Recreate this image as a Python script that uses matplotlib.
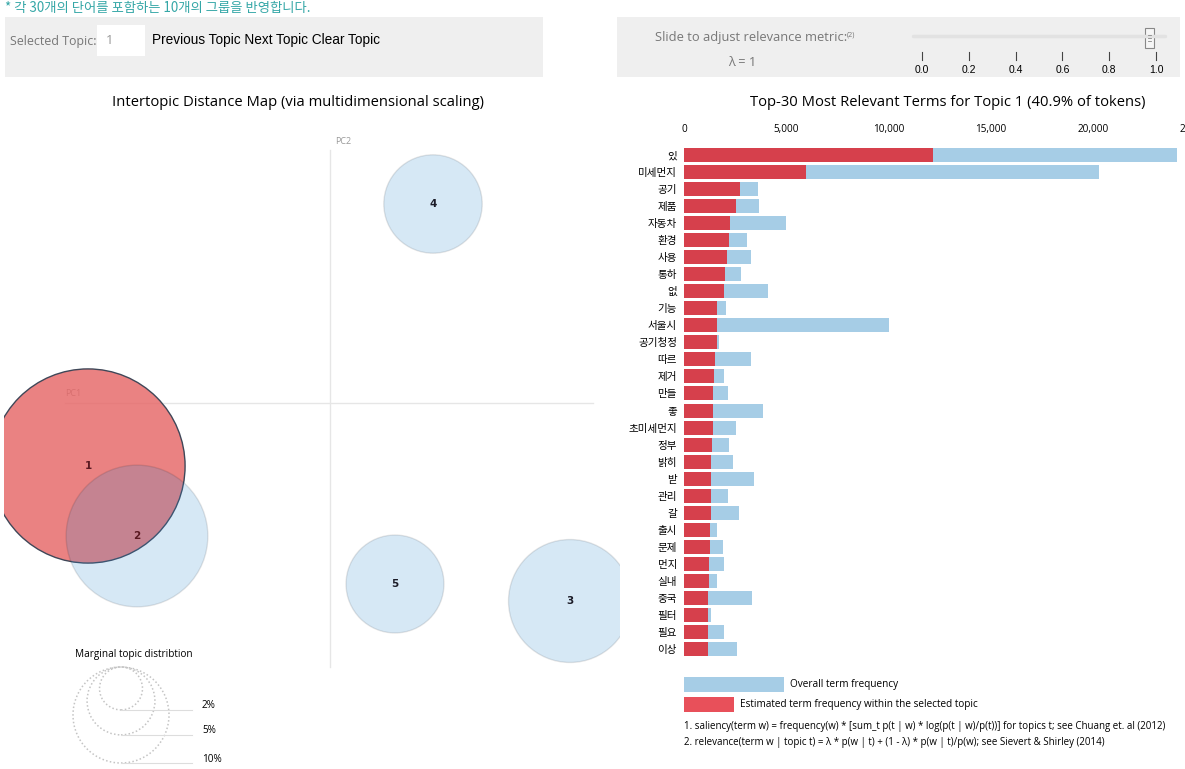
import numpy as np
import matplotlib
matplotlib.use("Agg")
import matplotlib.pyplot as plt
from matplotlib.patches import Circle, Rectangle
from matplotlib.ticker import FuncFormatter

plt.rcParams['font.family'] = ['Open Sans', 'Noto Sans CJK KR', 'DejaVu Sans']

# --- data ---------------------------------------------------------------------

topic_ids = [1, 2, 3, 4, 5]
topic_pc1 = [-0.242, -0.193, 0.240, 0.103, 0.065]
topic_pc2 = [-0.063, -0.133, -0.198, 0.199, -0.181]
topic_pct = [40.9, 21.8, 16.4, 10.5, 10.4]
selected_topic = 1

legend_pct = [2, 5, 10]

terms = ["있", "미세먼지", "공기", "제품", "자동차", "환경", "사용", "통하", "없", "기능",
         "서울시", "공기청정", "따르", "제거", "만들", "좋", "초미세먼지", "정부", "밝히", "받",
         "관리", "갈", "출시", "문제", "먼지", "실내", "중국", "필터", "필요", "이상"]
overall_freq = [24100, 20300, 3640, 3670, 5000, 3060, 3270, 2790, 4120, 2030,
                10000, 1730, 3270, 1940, 2160, 3850, 2530, 2210, 2420, 3410,
                2160, 2690, 1590, 1910, 1960, 1590, 3320, 1310, 1980, 2600]
topic_freq = [12160, 5970, 2740, 2560, 2260, 2190, 2100, 2000, 1980, 1630,
              1630, 1590, 1520, 1450, 1410, 1410, 1410, 1360, 1340, 1340,
              1310, 1310, 1290, 1250, 1240, 1220, 1180, 1180, 1170, 1170]
freq_ticks = [0, 5000, 10000, 15000, 20000, 25000]

lambda_ticks = [0.0, 0.2, 0.4, 0.6, 0.8, 1.0]
lambda_value = 1.0

# --- layout helpers -----------------------------------------------------------

W, H = 1185, 769
fig = plt.figure(figsize=(W / 100, H / 100), dpi=100)


def px_axes(x0, y0, x1, y1):
    """Axes placed by pixel box (top-left origin)."""
    return fig.add_axes([x0 / W, 1 - y1 / H, (x1 - x0) / W, (y1 - y0) / H])


bg = px_axes(0, 0, W, H)
bg.set_xlim(0, W)
bg.set_ylim(H, 0)
bg.axis('off')

# --- top controls -------------------------------------------------------------

bg.text(5, 8, "* 각 30개의 단어를 포함하는 10개의 그룹을 반영합니다.", fontsize=9.6,
        color="#35a7a7", va="center", ha="left",
        family=['Noto Sans CJK KR', 'DejaVu Sans'])

bg.add_patch(Rectangle((5, 17), 538, 60, color="#efefef", lw=0))
bg.add_patch(Rectangle((617, 17), 563, 60, color="#efefef", lw=0))
bg.add_patch(Rectangle((97, 25), 48, 31, color="white", lw=0))
bg.text(10, 41, "Selected Topic:", fontsize=8.9, color="#777777", va="center")
bg.text(106, 41, str(selected_topic), fontsize=9.2, color="#999999", va="center")
bg.text(152, 40, "Previous Topic Next Topic Clear Topic", fontsize=9.8,
        color="black", va="center", family="Liberation Sans")
bg.text(655, 38, "Slide to adjust relevance metric:", fontsize=9.3,
        color="#777777", va="center")
bg.text(847, 35, "(2)", fontsize=5.2, color="#777777", va="center")
bg.text(728, 63, "λ = 1", fontsize=9.2, color="#777777", va="center")

# slider
sl = px_axes(922, 25, 1156, 77)
sl.set_xlim(0, 1)
sl.set_ylim(77, 25)
sl.axis('off')
sl.plot([-0.04, 1.04], [36, 36], color="#e2e2e2", lw=2.5, clip_on=False,
        solid_capstyle="round")
for v in lambda_ticks:
    sl.plot([v, v], [52, 60], color="#444444", lw=0.8, clip_on=False)
    sl.text(v, 70, f"{v:.1f}", fontsize=7.5, ha="center", va="center",
            family="Liberation Sans", clip_on=False)
hx = lambda_value - 0.028
sl.add_patch(Rectangle((hx - 0.019, 28), 0.038, 20, facecolor="#f6f6f6",
                       edgecolor="#888888", lw=0.8, clip_on=False))
for dy in (35, 38, 41):
    sl.plot([hx - 0.008, hx + 0.008], [dy, dy], color="#888888", lw=0.6,
            clip_on=False)

# --- intertopic distance map ----------------------------------------------------

bg.text(298, 102, "Intertopic Distance Map (via multidimensional scaling)",
        fontsize=10.6, ha="center", va="center")

mp = px_axes(4, 125, 620, 769)
mp.set_xlim((4 - 330) / 1000, (620 - 330) / 1000)
mp.set_ylim((403 - 769) / 1000, (403 - 125) / 1000)
mp.axis('off')

mp.plot([0, 0], [-0.264, 0.253], color="#e6e6e6", lw=1, zorder=0.5)
mp.plot([-0.265, 0.263], [0, 0], color="#e6e6e6", lw=1, zorder=0.5)
mp.text(0.005, 0.262, "PC2", fontsize=6.5, color="#999999", va="center",
        zorder=0.5)
mp.text(-0.265, 0.009, "PC1", fontsize=6.5, color="#999999", va="center",
        zorder=0.5)

r_scale = 0.01518  # radius per sqrt(percent)
for tid, x, y, pct in zip(topic_ids, topic_pc1, topic_pc2, topic_pct):
    r = r_scale * np.sqrt(pct)
    if tid == selected_topic:
        mp.add_patch(Circle((x, y), r, facecolor=(0.90, 0.40, 0.40, 0.82),
                            edgecolor="#3f4758", lw=1.0))
    else:
        mp.add_patch(Circle((x, y), r, facecolor=(0.2, 0.55, 0.82, 0.2),
                            edgecolor=(0, 0, 0, 0.1), lw=1.0))

for tid, x, y in zip(topic_ids, topic_pc1, topic_pc2):
    col = "#5a1a22" if tid in (1, 2) else "#1c1c28"
    mp.text(x, y, str(tid), fontsize=7.5, fontweight="bold", color=col,
            ha="center", va="center", family="DejaVu Sans")

# marginal topic distribution legend
leg_cx, leg_top = -0.209, -0.264
mp.text(-0.255, -0.251, "Marginal topic distribtion", fontsize=7.2,
        va="center", ha="left")
for pct in legend_pct:
    r = r_scale * np.sqrt(pct)
    cy = leg_top - r
    mp.add_patch(Circle((leg_cx, cy), r, fill=False, edgecolor="#c4c4c4",
                        lw=1.1, ls=(0, (1, 1.5))))
    mp.plot([leg_cx, -0.138], [cy - r, cy - r], color="#dddddd", lw=0.8)
    mp.text(-0.128, cy - r + 0.004, f"{pct}%", fontsize=7.2, va="center",
            ha="left")

# --- top terms bar chart -------------------------------------------------------

bg.text(948, 102, f"Top-30 Most Relevant Terms for Topic {selected_topic} "
        f"({topic_pct[0]}% of tokens)", fontsize=10.6, ha="center", va="center")

ax = px_axes(684, 146.5, 1200, 657.5)
ypos = np.arange(len(terms))
ax.barh(ypos, overall_freq, height=0.82, color="#a6cde6", lw=0)
ax.barh(ypos, topic_freq, height=0.82, color="#d6404c", lw=0)
ax.set_xlim(0, 516 / 20.45 * 1000)
ax.set_ylim(len(terms) - 0.5, -0.5)
ax.set_yticks(ypos)
ax.set_yticklabels(terms, family=['Noto Sans CJK KR', 'DejaVu Sans'])
ax.xaxis.tick_top()
ax.set_xticks(freq_ticks)
ax.xaxis.set_major_formatter(FuncFormatter(lambda v, p: f"{int(v):,}"))
ax.tick_params(axis="x", length=0, pad=8, labelsize=7.2)
ax.tick_params(axis="y", length=0, pad=5, labelsize=7.6)
for s in ax.spines.values():
    s.set_visible(False)

# legend + footnotes
bg.add_patch(Rectangle((684, 677), 100, 15, color="#a6cde6", lw=0))
bg.text(790, 684, "Overall term frequency", fontsize=7.2, va="center")
bg.add_patch(Rectangle((684, 697), 50, 15, color="#e8505a", lw=0))
bg.text(740, 704, "Estimated term frequency within the selected topic",
        fontsize=7.2, va="center")
bg.text(684, 727, "1. saliency(term w) = frequency(w) * [sum_t p(t | w) * "
        "log(p(t | w)/p(t))] for topics t; see Chuang et. al (2012)",
        fontsize=7.0, va="center")
bg.text(684, 743, "2. relevance(term w | topic t) = λ * p(w | t) + (1 - λ) * "
        "p(w | t)/p(w); see Sievert & Shirley (2014)", fontsize=7.0,
        va="center")

fig.savefig("out.png", dpi=100)
